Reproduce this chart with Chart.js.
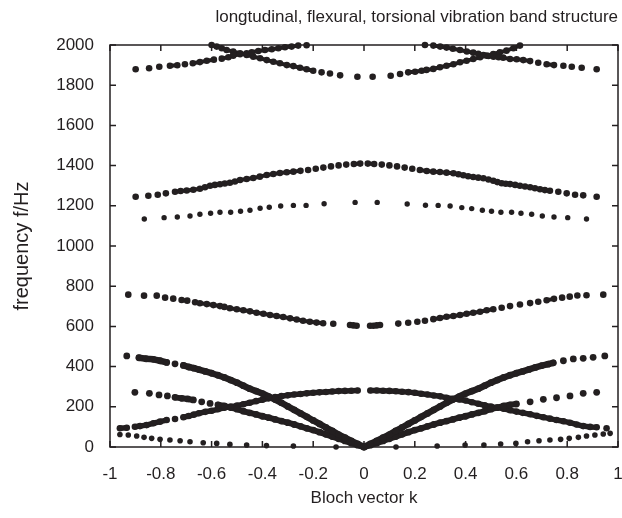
<!DOCTYPE html>
<html>
<head>
<meta charset="utf-8">
<title>band structure</title>
<script src="https://cdn.jsdelivr.net/npm/chart.js@4.4.1/dist/chart.umd.min.js"></script>
<style>
  html, body { margin: 0; padding: 0; background: #fff; }
  #bandChart { display: block; }
</style>
</head>
<body>
<canvas id="bandChart" width="622" height="518"></canvas>
<script>
const ink = '#231f20';

// axis ticks
const kTickValues = [-1, -0.8, -0.6, -0.4, -0.2, 0, 0.2, 0.4, 0.6, 0.8, 1];
const fTickValues = [0, 200, 400, 600, 800, 1000, 1200, 1400, 1600, 1800, 2000];

// band A: rises from 1880 at the edges, crosses band B, leaves the top
const bandAk = [-0.899, -0.846, -0.806, -0.764, -0.735, -0.705, -0.674, -0.646, -0.619, -0.591, -0.56, -0.534, -0.515, -0.488, -0.462, -0.442, -0.416, -0.39, -0.363, -0.337, -0.311, -0.285, -0.259, -0.226,
  0.24, 0.273, 0.3, 0.325, 0.35, 0.378, 0.405, 0.43, 0.45, 0.47, 0.49, 0.51, 0.53, 0.548, 0.575, 0.601, 0.627, 0.654, 0.686, 0.719, 0.748, 0.785, 0.818, 0.857, 0.916];
const bandAf = [1879, 1884, 1892, 1897, 1899, 1904, 1909, 1915, 1922, 1927, 1932, 1939, 1947, 1954, 1959, 1964, 1970, 1975, 1979, 1984, 1989, 1992, 1997, 1999,
  2000, 1997, 1992, 1987, 1981, 1975, 1968, 1962, 1956, 1950, 1945, 1942, 1939, 1937, 1930, 1929, 1925, 1920, 1912, 1904, 1900, 1897, 1892, 1887, 1879];

// band B: minimum near 1845 at k = 0
const bandBk = [-0.6, -0.58, -0.56, -0.541, -0.515, -0.488, -0.462, -0.436, -0.409, -0.383, -0.357, -0.331, -0.304, -0.278, -0.252, -0.226, -0.2, -0.167, -0.134, -0.094, -0.026,
  0.034, 0.105, 0.142, 0.174, 0.201, 0.227, 0.246, 0.273, 0.299, 0.325, 0.352, 0.378, 0.404, 0.43, 0.457, 0.483, 0.509, 0.535, 0.561, 0.588, 0.614];
const bandBf = [2000, 1992, 1984, 1975, 1967, 1959, 1950, 1942, 1934, 1925, 1917, 1909, 1900, 1895, 1887, 1879, 1872, 1864, 1858, 1849, 1842,
  1842, 1847, 1856, 1864, 1867, 1872, 1876, 1881, 1889, 1897, 1904, 1914, 1922, 1930, 1939, 1947, 1955, 1964, 1972, 1984, 1997];

// band C: maximum near 1410
const bandCk = [-0.899, -0.849, -0.812, -0.78, -0.744, -0.722, -0.698, -0.672, -0.646, -0.626, -0.606, -0.587, -0.567, -0.548, -0.528, -0.508, -0.488, -0.462, -0.436, -0.41, -0.383, -0.357, -0.331, -0.304, -0.278, -0.25, -0.22, -0.19, -0.16, -0.13, -0.1, -0.07, -0.04, -0.015,
  0.015, 0.04, 0.07, 0.1, 0.13, 0.16, 0.19, 0.22, 0.247, 0.273, 0.299, 0.325, 0.352, 0.372, 0.391, 0.41, 0.43, 0.45, 0.47, 0.49, 0.509, 0.525, 0.542, 0.558, 0.575, 0.595, 0.614, 0.634, 0.654, 0.673, 0.693, 0.712, 0.732, 0.765, 0.798, 0.831, 0.863, 0.916];
const bandCf = [1245, 1250, 1255, 1262, 1270, 1274, 1276, 1280, 1285, 1292, 1300, 1304, 1307, 1311, 1315, 1321, 1328, 1333, 1338, 1345, 1353, 1358, 1363, 1367, 1370, 1374, 1378, 1384, 1390, 1396, 1401, 1405, 1408, 1410,
  1410, 1408, 1405, 1401, 1396, 1390, 1384, 1378, 1373, 1370, 1368, 1365, 1362, 1357, 1352, 1347, 1343, 1340, 1337, 1331, 1325, 1318, 1312, 1310, 1308, 1304, 1300, 1296, 1292, 1287, 1282, 1278, 1275, 1270, 1262, 1255, 1252, 1245];

// band D: sparse dots around 1135 - 1217
const bandDk = [-0.865, -0.787, -0.735, -0.685, -0.646, -0.604, -0.567, -0.525, -0.486, -0.449, -0.409, -0.373, -0.328, -0.278, -0.228, -0.157, -0.035,
  0.052, 0.17, 0.242, 0.292, 0.339, 0.385, 0.424, 0.466, 0.502, 0.539, 0.581, 0.618, 0.66, 0.702, 0.748, 0.802, 0.876];
const bandDf = [1134, 1141, 1144, 1149, 1158, 1163, 1168, 1168, 1173, 1178, 1188, 1193, 1199, 1202, 1202, 1210, 1217,
  1217, 1209, 1203, 1202, 1199, 1191, 1186, 1178, 1173, 1168, 1168, 1163, 1158, 1149, 1144, 1141, 1134];

// band E: 760 at the edges down to 603 at k = 0
const bandEk = [-0.928, -0.866, -0.816, -0.783, -0.751, -0.718, -0.696, -0.665, -0.646, -0.619, -0.593, -0.567, -0.55, -0.528, -0.501, -0.475, -0.449, -0.423, -0.396, -0.37, -0.344, -0.318, -0.291, -0.265, -0.24, -0.213, -0.187, -0.161, -0.121, -0.055, -0.042, -0.029,
  0.024, 0.037, 0.05, 0.063, 0.135, 0.174, 0.21, 0.24, 0.273, 0.299, 0.325, 0.352, 0.378, 0.404, 0.43, 0.457, 0.483, 0.509, 0.542, 0.575, 0.614, 0.654, 0.686, 0.719, 0.748, 0.78, 0.81, 0.84, 0.876, 0.942];
const bandEf = [758, 753, 753, 743, 738, 731, 728, 720, 715, 711, 706, 701, 697, 690, 685, 680, 675, 668, 663, 657, 652, 647, 640, 634, 628, 623, 619, 616, 613, 607, 605, 603,
  603, 603, 605, 607, 614, 618, 623, 628, 636, 642, 648, 652, 657, 663, 668, 673, 680, 685, 693, 701, 709, 716, 723, 730, 737, 743, 748, 754, 755, 758];

// band F: steep branch through the origin up to 453
const bandFk = [-0.934, -0.886, -0.858, -0.829, -0.803, -0.777, -0.744, -0.711, -0.69, -0.67, -0.65, -0.625, -0.6, -0.575, -0.55, -0.525, -0.5, -0.475, -0.45, -0.425, -0.4, -0.375, -0.35, -0.325, -0.3, -0.275, -0.25, -0.225, -0.2, -0.175, -0.15, -0.125, -0.1, -0.075, -0.05, -0.025, 0,
  0.025, 0.05, 0.075, 0.1, 0.125, 0.15, 0.175, 0.2, 0.225, 0.25, 0.275, 0.3, 0.325, 0.35, 0.375, 0.4, 0.425, 0.45, 0.475, 0.5, 0.525, 0.55, 0.575, 0.6, 0.625, 0.65, 0.675, 0.7, 0.725, 0.745, 0.785, 0.824, 0.863, 0.902, 0.948];
const bandFf = [453, 444, 439, 436, 429, 421, 414, 406, 398, 392, 385, 376, 367, 357, 346, 333, 320, 305, 290, 278, 266, 251, 236, 220, 202, 185, 167, 150, 132, 115, 97, 80, 62, 46, 30, 15, 0,
  15, 30, 46, 62, 80, 97, 115, 132, 150, 167, 185, 202, 220, 236, 251, 266, 278, 290, 305, 320, 333, 346, 357, 367, 376, 386, 396, 405, 412, 419, 429, 438, 441, 446, 453];

// band G: slower branch through the origin up to 272
const bandGk = [-0.902, -0.845, -0.807, -0.774, -0.744, -0.718, -0.694, -0.672, -0.639, -0.606, -0.575, -0.55, -0.525, -0.5, -0.475, -0.45, -0.425, -0.4, -0.375, -0.35, -0.325, -0.3, -0.275, -0.25, -0.225, -0.2, -0.175, -0.15, -0.125, -0.1, -0.075, -0.05, -0.025, 0,
  0.025, 0.05, 0.075, 0.1, 0.125, 0.15, 0.175, 0.2, 0.225, 0.25, 0.275, 0.3, 0.325, 0.35, 0.375, 0.4, 0.425, 0.45, 0.475, 0.5, 0.525, 0.55, 0.575, 0.6, 0.654, 0.706, 0.758, 0.811, 0.863, 0.916];
const bandGf = [272, 267, 259, 254, 247, 242, 239, 234, 225, 217, 210, 204, 196, 188, 178, 170, 162, 153, 146, 137, 129, 121, 112, 103, 93, 84, 74, 63, 52, 41, 30, 19, 9, 0,
  9, 19, 30, 41, 52, 63, 74, 84, 93, 103, 112, 121, 129, 137, 146, 153, 162, 170, 178, 188, 196, 204, 210, 214, 225, 237, 245, 254, 267, 272];

// band H: 281 at k = 0 falling to 93 at the edges
const bandHk = [-0.961, -0.934, -0.902, -0.882, -0.856, -0.829, -0.803, -0.777, -0.744, -0.711, -0.69, -0.67, -0.65, -0.625, -0.6, -0.575, -0.55, -0.525, -0.5, -0.475, -0.45, -0.425, -0.4, -0.375, -0.35, -0.325, -0.3, -0.275, -0.25, -0.225, -0.2, -0.175, -0.15, -0.125, -0.1, -0.075, -0.05, -0.025,
  0.025, 0.05, 0.075, 0.1, 0.125, 0.15, 0.175, 0.2, 0.225, 0.25, 0.275, 0.3, 0.325, 0.35, 0.375, 0.4, 0.425, 0.45, 0.475, 0.5, 0.525, 0.55, 0.575, 0.6, 0.625, 0.654, 0.68, 0.706, 0.732, 0.758, 0.785, 0.811, 0.837, 0.863, 0.89, 0.916, 0.955];
const bandHf = [93, 96, 101, 104, 109, 118, 126, 134, 139, 148, 154, 161, 168, 175, 180, 188, 195, 201, 206, 213, 220, 228, 235, 242, 248, 253, 257, 261, 264, 267, 270, 272, 274, 276, 278, 279, 280, 281,
  281, 281, 280, 279, 277, 275, 273, 270, 265, 261, 256, 252, 245, 240, 236, 231, 223, 215, 208, 201, 196, 190, 183, 176, 170, 163, 155, 148, 141, 134, 128, 121, 112, 104, 100, 98, 93];

// band I: lowest, sparse dots from 65 down to 0
const bandIk = [-0.961, -0.928, -0.895, -0.866, -0.836, -0.803, -0.764, -0.724, -0.685, -0.633, -0.58, -0.528, -0.462, -0.384, -0.278, -0.11,
  0.126, 0.288, 0.398, 0.472, 0.538, 0.598, 0.644, 0.689, 0.732, 0.774, 0.808, 0.844, 0.876, 0.909, 0.942, 0.969];
const bandIf = [62, 60, 55, 48, 43, 38, 35, 31, 26, 21, 18, 13, 10, 7, 5, 0,
  0, 5, 10, 10, 15, 18, 26, 31, 35, 38, 43, 48, 55, 60, 65, 68];

// dots closer than this (px) are joined, like the dense runs in the picture
const mergeGap = 7.5;
function mergeColor(c) {
  return Math.hypot(c.p1.x - c.p0.x, c.p1.y - c.p0.y) <= mergeGap ? ink : 'rgba(0,0,0,0)';
}

// stroke = width of the joining line, 0 for loose dots only
function band(k, f, radius, stroke) {
  return {
    data: k.map((v, i) => ({ x: v, y: f[i] })),
    showLine: stroke > 0,
    borderColor: ink,
    borderWidth: stroke,
    borderCapStyle: 'round',
    borderJoinStyle: 'round',
    tension: 0,
    segment: stroke > 0 ? { borderColor: mergeColor } : undefined,
    pointRadius: radius,
    pointBackgroundColor: ink,
    pointBorderWidth: 0,
    pointHoverRadius: radius,
    clip: false
  };
}

// box round the plot area with inward ticks on all four sides
const frameBox = {
  id: 'frameBox',
  beforeDatasetsDraw(chart) {
    const { ctx, chartArea: a, scales: { x, y } } = chart;
    const len = 6;
    ctx.save();
    ctx.strokeStyle = ink;
    ctx.lineWidth = 1.5;
    ctx.beginPath();
    x.ticks.forEach(t => {
      const px = x.getPixelForValue(t.value);
      ctx.moveTo(px, a.bottom); ctx.lineTo(px, a.bottom - len);
      ctx.moveTo(px, a.top); ctx.lineTo(px, a.top + len);
    });
    y.ticks.forEach(t => {
      const py = y.getPixelForValue(t.value);
      ctx.moveTo(a.left, py); ctx.lineTo(a.left + len, py);
      ctx.moveTo(a.right, py); ctx.lineTo(a.right - len, py);
    });
    ctx.stroke();
    ctx.strokeRect(a.left, a.top, a.right - a.left, a.bottom - a.top);
    ctx.restore();
  }
};

Chart.defaults.font.family = "'Liberation Sans', Arial, sans-serif";
Chart.defaults.font.size = 17;
Chart.defaults.color = ink;

const ctx = document.getElementById('bandChart').getContext('2d');
new Chart(ctx, {
  type: 'scatter',
  data: {
    datasets: [
      band(bandAk, bandAf, 3.3, 4),
      band(bandBk, bandBf, 3.3, 4),
      band(bandCk, bandCf, 3.3, 4),
      band(bandDk, bandDf, 2.7, 0),
      band(bandEk, bandEf, 3.3, 4),
      band(bandFk, bandFf, 3.4, 6.5),
      band(bandGk, bandGf, 3.4, 6),
      band(bandHk, bandHf, 3.3, 5.5),
      band(bandIk, bandIf, 2.8, 0)
    ]
  },
  options: {
    responsive: false,
    animation: false,
    devicePixelRatio: 1,
    layout: { padding: { left: 0, right: 4, top: 0, bottom: 0 } },
    scales: {
      x: {
        type: 'linear', min: -1, max: 1,
        afterBuildTicks: s => { s.ticks = kTickValues.map(v => ({ value: v })); },
        afterFit: s => { s.height = 71; s.paddingLeft = 0; s.paddingRight = 0; },
        grid: { display: false, drawTicks: false },
        border: { display: false },
        ticks: { padding: 17, maxRotation: 0, autoSkip: false, callback: v => String(v) },
        title: { display: true, text: 'Bloch vector k', padding: { top: 0, bottom: 9 } }
      },
      y: {
        type: 'linear', min: 0, max: 2000,
        afterBuildTicks: s => { s.ticks = fTickValues.map(v => ({ value: v })); },
        afterFit: s => { s.width = 110; s.paddingTop = 0; s.paddingBottom = 0; },
        grid: { display: false, drawTicks: false },
        border: { display: false },
        ticks: { padding: 16, autoSkip: false, callback: v => String(v) },
        title: { display: true, text: 'frequency f/Hz', font: { size: 20 }, padding: { top: 10, bottom: 0 } }
      }
    },
    plugins: {
      legend: { display: false },
      tooltip: { enabled: false },
      title: {
        display: true,
        text: 'longtudinal, flexural, torsional vibration band structure',
        align: 'end',
        font: { size: 17, weight: 'normal' },
        padding: { top: 7, bottom: 17.6 }
      }
    }
  },
  plugins: [frameBox]
});
</script>
</body>
</html>
